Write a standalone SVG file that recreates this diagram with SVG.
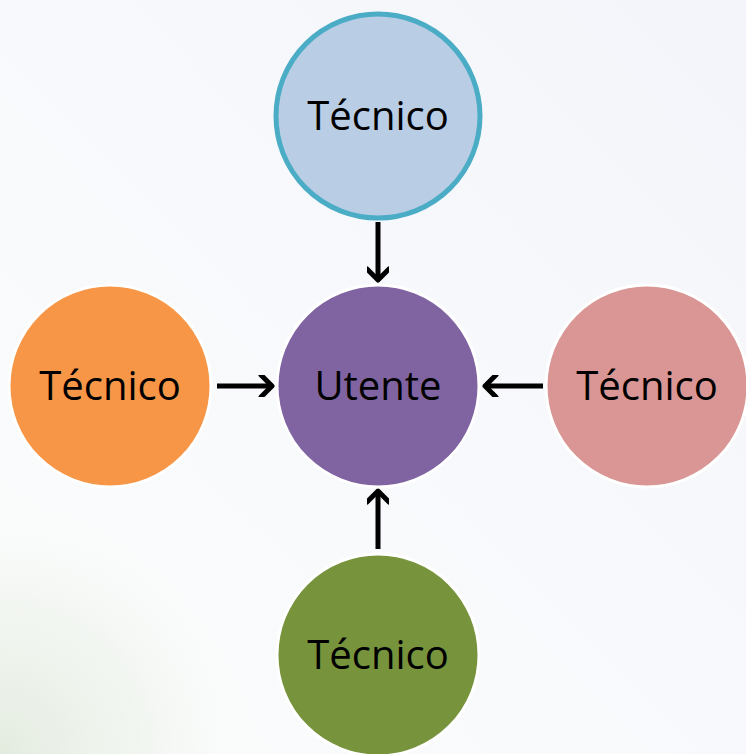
<svg xmlns="http://www.w3.org/2000/svg" width="746" height="754" viewBox="0 0 746 754">
<defs>
<linearGradient id="bg" x1="0" y1="1" x2="1" y2="0">
<stop offset="0" stop-color="#fbfcfb"/>
<stop offset="0.5" stop-color="#f8f9fc"/>
<stop offset="1" stop-color="#f3f5fa"/>
</linearGradient>
<radialGradient id="glow" cx="0" cy="754" r="260" gradientUnits="userSpaceOnUse">
<stop offset="0" stop-color="#e3ebdf" stop-opacity="1"/>
<stop offset="0.6" stop-color="#eef3ec" stop-opacity="0.6"/>
<stop offset="1" stop-color="#fbfcfb" stop-opacity="0"/>
</radialGradient>
<marker id="ah" viewBox="0 0 20 22" refX="16" refY="11" markerWidth="20" markerHeight="22" markerUnits="userSpaceOnUse" orient="auto">
<path d="M5 0 L16 11 L5 22" fill="none" stroke="#000" stroke-width="5" stroke-linecap="round" stroke-linejoin="round"/>
</marker>
<style>
.n{stroke:#fff;stroke-width:3}
.t{font-family:"Open Sans","Noto Sans",sans-serif;font-size:40px;fill:#000;text-anchor:middle}
.c{stroke:#000;stroke-width:5;fill:none;marker-end:url(#ah)}
</style>
</defs>
<rect width="746" height="754" fill="url(#bg)"/>
<rect width="746" height="754" fill="url(#glow)"/>
<g id="connectors">
<line class="c" x1="378" y1="222" x2="378" y2="280"/>
<line class="c" x1="217" y1="386" x2="272" y2="386"/>
<line class="c" x1="543" y1="386" x2="485" y2="386"/>
<line class="c" x1="378" y1="549" x2="378" y2="491"/>
</g>
<g id="top">
<circle cx="378" cy="116" r="102" fill="#b9cde5" stroke="#4bacc6" stroke-width="5"/>
<text class="t" x="378" y="130">Técnico</text>
</g>
<g id="center">
<circle class="n" cx="378" cy="386" r="101" fill="#8064a2"/>
<text class="t" x="378" y="400">Utente</text>
</g>
<g id="left">
<circle class="n" cx="110" cy="386" r="101" fill="#f79646"/>
<text class="t" x="110" y="400">Técnico</text>
</g>
<g id="right">
<circle class="n" cx="647" cy="386" r="101" fill="#d99694"/>
<text class="t" x="647" y="400">Técnico</text>
</g>
<g id="bottom">
<circle class="n" cx="378" cy="655" r="101" fill="#77933c"/>
<text class="t" x="378" y="669">Técnico</text>
</g>
</svg>
